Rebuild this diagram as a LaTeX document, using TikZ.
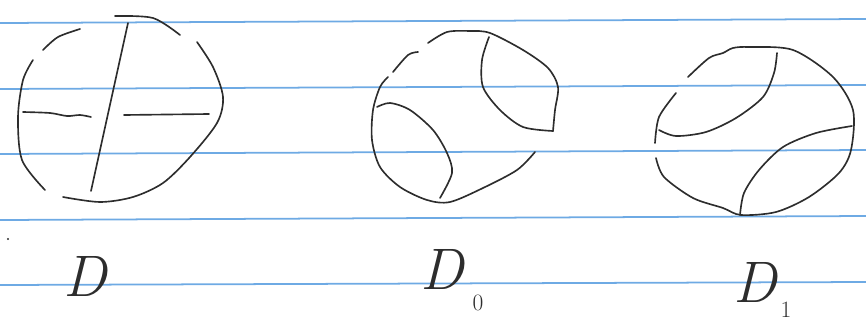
\documentclass[tikz,border=0pt]{standalone}
\usepackage{fontspec}
\usepackage{xcolor}
\usepackage{tikz}
\usetikzlibrary{positioning}

\definecolor{inkc}{RGB}{45,45,45}
\definecolor{rulec}{RGB}{110,170,228}

\begin{document}
\begin{tikzpicture}[x=0.03cm, y=-0.03cm,
    ink/.style={line width=1.4pt, color=inkc, line cap=round, line join=round},
    rule/.style={line width=1.5pt, color=rulec},
    lbl/.style={font=\fontsize{50}{50}\selectfont\itshape, text=inkc, inner sep=0pt},
    sublbl/.style={font=\fontsize{20}{20}\selectfont, text=inkc, inner sep=0pt},
]
\useasboundingbox (0,0) rectangle (866,328);

% ruled paper
\foreach \yl/\yr in {23/19, 89/85, 154/150, 220/216, 285/282}
    \draw[rule] (0,\yl) -- (866,\yr);

% D
\draw[ink] plot[smooth] coordinates {(43,50) (58,37) (80,29)};
\draw[ink] plot[smooth] coordinates {(115,16) (153,18) (180,35)};
\draw[ink] plot[smooth] coordinates {(197,42) (213,67) (223,97) (217,123) (190,157) (163,183) (133,197) (100,202) (63,197)};
\draw[ink] plot[smooth] coordinates {(45,190) (22,160) (18,117) (23,80) (33,60)};
\draw[ink] (128,23) -- (91,191);
\draw[ink] plot[smooth] coordinates {(23,112) (50,113) (67,116) (80,115) (91,117)};
\draw[ink] (124,115) -- (209,114);
\fill[inkc] (8,239) circle (1.2);

% D0
\draw[ink] plot[smooth] coordinates {(428,43) (447,32) (470,31) (490,33) (523,50) (548,68) (558,87) (555,110) (553,131)};
\draw[ink] plot[smooth] coordinates {(489,37) (482,60) (483,87) (500,110) (523,127) (553,131)};
\draw[ink] plot[smooth] coordinates {(535,152) (517,170) (483,188) (450,202) (427,200) (400,187) (380,167) (372,140) (373,110) (380,87) (388,77)};
\draw[ink] plot[smooth] coordinates {(393,72) (408,55) (418,52)};
\draw[ink] plot[smooth] coordinates {(377,107) (390,103) (410,110) (433,130) (447,153) (452,173) (440,198)};

% D1
\draw[ink] plot[smooth] coordinates {(688,77) (709,58) (723,53) (733,48) (749,47) (793,50) (833,77) (853,110) (851,150) (839,173) (809,197) (776,212) (741,215) (723,208) (693,198) (664,177) (656,158)};
\draw[ink] plot[smooth] coordinates {(655,143) (659,117) (676,93)};
\draw[ink] plot[smooth] coordinates {(777,53) (774,73) (763,97) (736,118) (706,132) (676,136) (659,130)};
\draw[ink] plot[smooth] coordinates {(852,126) (816,133) (783,147) (759,170) (744,193) (740,215)};

% labels
\node[lbl] (labD) at (85,276) {D};
\node[lbl] (labDzero) at (442,269) {D};
\node[sublbl] (subzero) at (478,303) {0};
\node[lbl] (labDone) at (755,282) {D};
\node[sublbl] (subone) at (786,310) {1};
\end{tikzpicture}
\end{document}
